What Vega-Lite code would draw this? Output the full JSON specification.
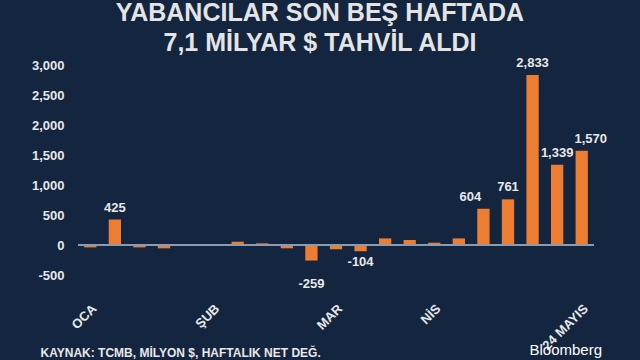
{
  "$schema": "https://vega.github.io/schema/vega-lite/v6.json",
  "width": 516,
  "height": 210,
  "autosize": {"type": "none"},
  "padding": {"left": 78, "top": 65, "right": 46, "bottom": 85},
  "background": "#13253f",
  "title": {
    "text": ["YABANCILAR SON BEŞ HAFTADA", "7,1 MİLYAR $ TAHVİL ALDI"],
    "font": "Liberation Sans",
    "fontSize": 25,
    "fontWeight": "bold",
    "color": "#e4e4e4",
    "lineHeight": 30,
    "anchor": "middle",
    "dx": -16,
    "offset": 1
  },
  "config": {
    "view": {"stroke": null},
    "font": "Liberation Sans"
  },
  "data": {
    "values": [
      {"hafta": "2019-01-04", "deger": -40, "etiket": false},
      {"hafta": "2019-01-11", "deger": 425, "etiket": true},
      {"hafta": "2019-01-18", "deger": -40, "etiket": false},
      {"hafta": "2019-01-25", "deger": -55, "etiket": false},
      {"hafta": "2019-02-01", "deger": -10, "etiket": false},
      {"hafta": "2019-02-08", "deger": 6, "etiket": false},
      {"hafta": "2019-02-15", "deger": 55, "etiket": false},
      {"hafta": "2019-02-22", "deger": 28, "etiket": false},
      {"hafta": "2019-03-01", "deger": -55, "etiket": false},
      {"hafta": "2019-03-08", "deger": -259, "etiket": true},
      {"hafta": "2019-03-15", "deger": -72, "etiket": false},
      {"hafta": "2019-03-22", "deger": -104, "etiket": true},
      {"hafta": "2019-03-29", "deger": 110, "etiket": false},
      {"hafta": "2019-04-05", "deger": 83, "etiket": false},
      {"hafta": "2019-04-12", "deger": 38, "etiket": false},
      {"hafta": "2019-04-19", "deger": 110, "etiket": false},
      {"hafta": "2019-04-26", "deger": 604, "etiket": true},
      {"hafta": "2019-05-03", "deger": 761, "etiket": true},
      {"hafta": "2019-05-10", "deger": 2833, "etiket": true},
      {"hafta": "2019-05-17", "deger": 1339, "etiket": true},
      {"hafta": "2019-05-24", "deger": 1570, "etiket": true}
    ]
  },
  "transform": [
    {"calculate": "replace(format(datum.deger, ','), '\u2212', '-')", "as": "metin"}
  ],
  "encoding": {
    "x": {
      "field": "hafta",
      "type": "ordinal",
      "scale": {"paddingInner": 0.5, "paddingOuter": 0.25},
      "axis": {
        "title": "KAYNAK: TCMB, MİLYON $, HAFTALIK NET DEĞ.",
        "titleFont": "Liberation Sans",
        "titleFontSize": 12,
        "titleFontWeight": "bold",
        "titleColor": "#e8e8e8",
        "titleAnchor": "start",
        "titleAlign": "left",
        "titleBaseline": "alphabetic",
        "titleX": -38,
        "titleY": 81,
        "labelExpr": "datum.value == '2019-01-04' ? 'OCA' : datum.value == '2019-02-08' ? 'ŞUB' : datum.value == '2019-03-15' ? 'MAR' : datum.value == '2019-04-12' ? 'NİS' : datum.value == '2019-05-24' ? '24 MAYIS' : ''",
        "labelAngle": -45,
        "labelFontSize": 13,
        "labelFontWeight": "bold",
        "labelColor": "#e8e8e8",
        "labelPadding": 27,
        "ticks": false,
        "domain": false,
        "grid": false
      }
    },
    "y": {
      "field": "deger",
      "type": "quantitative",
      "scale": {"domain": [-500, 3000], "nice": false},
      "axis": {
        "values": [-500, 0, 500, 1000, 1500, 2000, 2500, 3000],
        "labelExpr": "replace(format(datum.value, ','), '\u2212', '-')",
        "labelOverlap": false,
        "labelFontSize": 13,
        "labelFontWeight": "bold",
        "labelColor": "#e8e8e8",
        "labelPadding": 14,
        "ticks": false,
        "domain": false,
        "grid": false,
        "title": "Bloomberg",
        "titleAngle": 0,
        "titleFont": "Liberation Sans",
        "titleFontSize": 15,
        "titleFontWeight": "normal",
        "titleColor": "#ffffff",
        "titleAlign": "left",
        "titleBaseline": "alphabetic",
        "titleX": 451,
        "titleY": 289
      }
    }
  },
  "layer": [
    {
      "mark": {"type": "bar", "color": "#ed7d31"}
    },
    {
      "mark": {"type": "rule", "color": "#8c9bb0", "strokeWidth": 1.5},
      "encoding": {"y": {"datum": 0, "type": "quantitative"}, "x": null}
    },
    {
      "transform": [{"filter": "datum.etiket && datum.deger > 0 && datum.deger != 604 && datum.deger != 1570"}],
      "mark": {"type": "text", "baseline": "bottom", "dy": -5, "fontSize": 13, "fontWeight": "bold", "color": "#e8e8e8"},
      "encoding": {"text": {"field": "metin", "type": "nominal"}}
    },
    {
      "transform": [{"filter": "datum.deger == 604"}],
      "mark": {"type": "text", "baseline": "bottom", "dy": -5, "dx": -13, "fontSize": 13, "fontWeight": "bold", "color": "#e8e8e8"},
      "encoding": {"text": {"field": "metin", "type": "nominal"}}
    },
    {
      "transform": [{"filter": "datum.deger == 1570"}],
      "mark": {"type": "text", "baseline": "bottom", "dy": -5, "dx": 9, "fontSize": 13, "fontWeight": "bold", "color": "#e8e8e8"},
      "encoding": {"text": {"field": "metin", "type": "nominal"}}
    },
    {
      "transform": [{"filter": "datum.etiket && datum.deger < 0 && datum.deger != -259"}],
      "mark": {"type": "text", "baseline": "top", "dy": 5, "fontSize": 13, "fontWeight": "bold", "color": "#e8e8e8"},
      "encoding": {"text": {"field": "metin", "type": "nominal"}}
    },
    {
      "transform": [{"filter": "datum.deger == -259"}],
      "mark": {"type": "text", "baseline": "top", "dy": 17, "fontSize": 13, "fontWeight": "bold", "color": "#e8e8e8"},
      "encoding": {"text": {"field": "metin", "type": "nominal"}}
    }
  ]
}
